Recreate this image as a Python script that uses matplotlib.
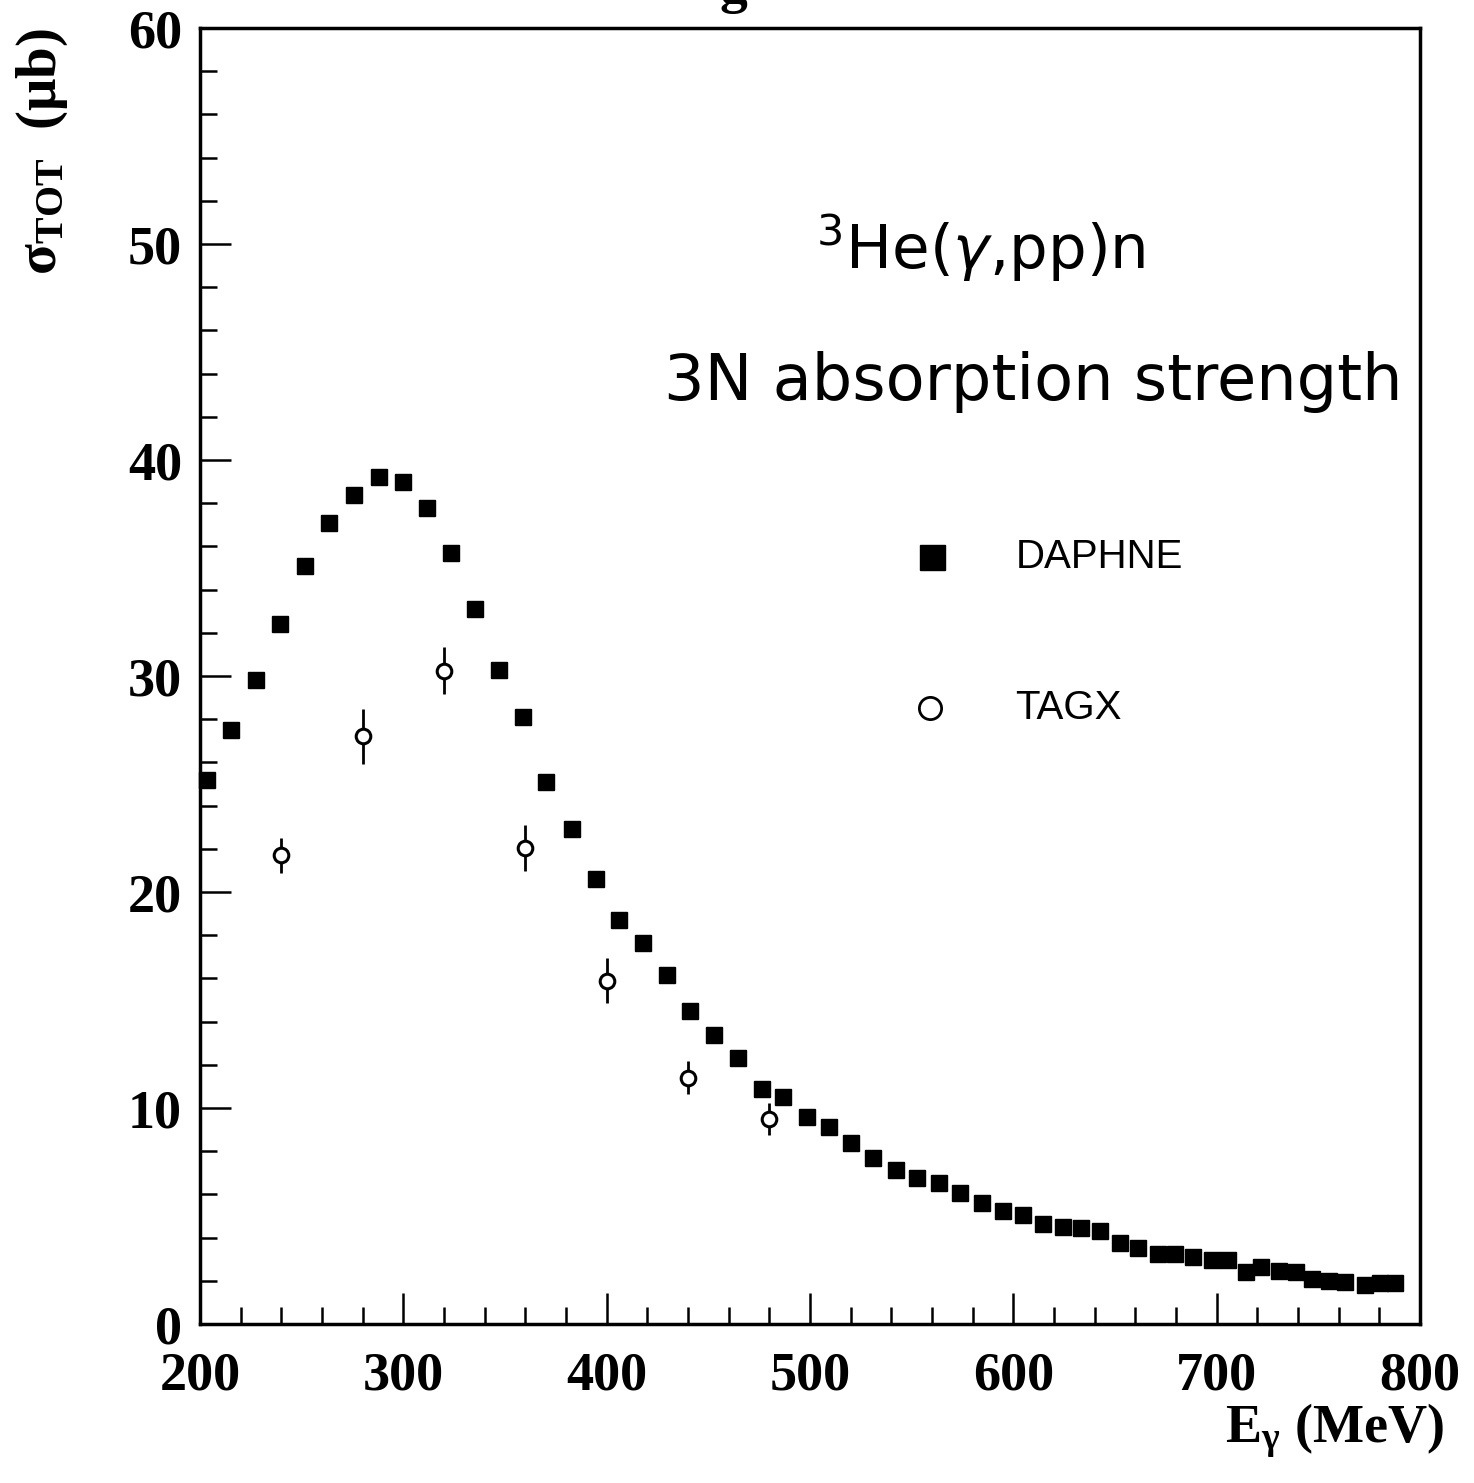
import matplotlib
matplotlib.use('Agg')
import matplotlib.pyplot as plt
from matplotlib.ticker import MultipleLocator

plt.rcParams['mathtext.fontset'] = 'custom'
plt.rcParams['mathtext.rm'] = 'Liberation Serif:bold'
plt.rcParams['mathtext.it'] = 'Liberation Serif:bold'
plt.rcParams['mathtext.bf'] = 'Liberation Serif:bold'
plt.rcParams['mathtext.default'] = 'rm'

# DAPHNE total cross section (filled squares)
daphne_e = [203.6, 215.2, 227.5, 239.4, 251.6, 263.6, 275.9, 287.9, 300.0, 311.5,
            323.3, 335.3, 347.2, 359.0, 370.2, 382.8, 394.8, 406.3, 417.8, 429.5,
            441.0, 452.8, 464.5, 476.2, 486.9, 498.4, 509.4, 520.2, 531.2, 542.4,
            552.8, 563.6, 574.0, 584.8, 594.8, 604.7, 614.6, 624.5, 633.5, 642.5,
            652.4, 661.4, 671.3, 679.4, 688.4, 697.5, 705.6, 714.6, 721.8, 730.8,
            738.9, 747.0, 755.1, 763.2, 773.1, 780.3, 787.6]
daphne_sig = [25.2, 27.5, 29.8, 32.4, 35.1, 37.1, 38.4, 39.2, 39.0, 37.8,
              35.7, 33.1, 30.3, 28.1, 25.1, 22.9, 20.6, 18.7, 17.65, 16.15,
              14.5, 13.4, 12.3, 10.9, 10.5, 9.6, 9.1, 8.4, 7.7, 7.15,
              6.75, 6.55, 6.05, 5.6, 5.25, 5.05, 4.65, 4.5, 4.45, 4.3,
              3.75, 3.5, 3.25, 3.25, 3.1, 2.95, 2.95, 2.4, 2.65, 2.45,
              2.4, 2.1, 2.0, 1.95, 1.8, 1.9, 1.9]

# TAGX (open circles with error bars)
tagx_e = [240, 280, 320, 360, 400, 440, 480]
tagx_sig = [21.7, 27.2, 30.25, 22.05, 15.9, 11.4, 9.5]
tagx_err = [0.8, 1.27, 1.08, 1.06, 1.06, 0.77, 0.75]

fig = plt.figure(figsize=(14.74, 14.83), dpi=100)
ax = fig.add_axes([200 / 1474, 1 - 1324 / 1483, 1220 / 1474, 1296 / 1483])

ax.plot(daphne_e, daphne_sig, 's', color='black', markersize=11.5, clip_on=False)
ax.errorbar(tagx_e, tagx_sig, yerr=tagx_err, fmt='o', mfc='white', mec='black',
            ecolor='black', mew=2.2, elinewidth=2, capsize=0, markersize=10.5, zorder=3)

ax.set_xlim(200, 800)
ax.set_ylim(0, 60)
ax.xaxis.set_major_locator(MultipleLocator(100))
ax.xaxis.set_minor_locator(MultipleLocator(20))
ax.yaxis.set_major_locator(MultipleLocator(10))
ax.yaxis.set_minor_locator(MultipleLocator(2))
ax.tick_params(which='both', direction='in', top=False, right=False, width=1.8)
ax.tick_params(which='major', length=22)
ax.tick_params(which='minor', length=12)
ax.tick_params(axis='x', which='major', pad=20)
ax.tick_params(axis='y', which='major', pad=13)
for lab in ax.get_xticklabels() + ax.get_yticklabels():
    lab.set_fontfamily('Liberation Serif')
    lab.set_fontweight('bold')
    lab.set_fontsize(39)
for sp in ax.spines.values():
    sp.set_linewidth(2.5)

# axis titles
fig.text(42 / 1474, 1 - 28 / 1483, r'$\sigma_{TOT}$  ($\mu$b)', rotation=90,
         ha='center', va='top', fontsize=41, family='Liberation Serif',
         fontweight='bold')
fig.text(1444 / 1474, 1 - 1442 / 1483, r'$E_{\gamma}$ (MeV)', ha='right',
         va='baseline', fontsize=39, family='Liberation Serif', fontweight='bold')

# cut-off heading above the frame
fig.text(733 / 1474, 1 - 2 / 1483, 'g', ha='center', va='baseline', fontsize=40,
         family='Liberation Serif', fontweight='bold')

# annotations
ax.text(584, 49.8, r'$^3$He($\mathit{\gamma}$,pp)n', ha='center', va='center',
        fontsize=44, family='DejaVu Sans', math_fontfamily='dejavusans')
fig.text(1402 / 1474, 1 - 400 / 1483, '3N absorption strength', ha='right',
         va='baseline', fontsize=46, family='DejaVu Sans')

# legend drawn by hand
ax.plot([560], [35.5], 's', color='black', markersize=18)
ax.plot([559], [28.5], 'o', mfc='white', mec='black', mew=2, markersize=16)
ax.text(601, 35.5, 'DAPHNE', va='center', ha='left', fontsize=29,
        family='Liberation Sans')
ax.text(601, 28.5, 'TAGX', va='center', ha='left', fontsize=29,
        family='Liberation Sans')

fig.savefig('out.png', dpi=100)
